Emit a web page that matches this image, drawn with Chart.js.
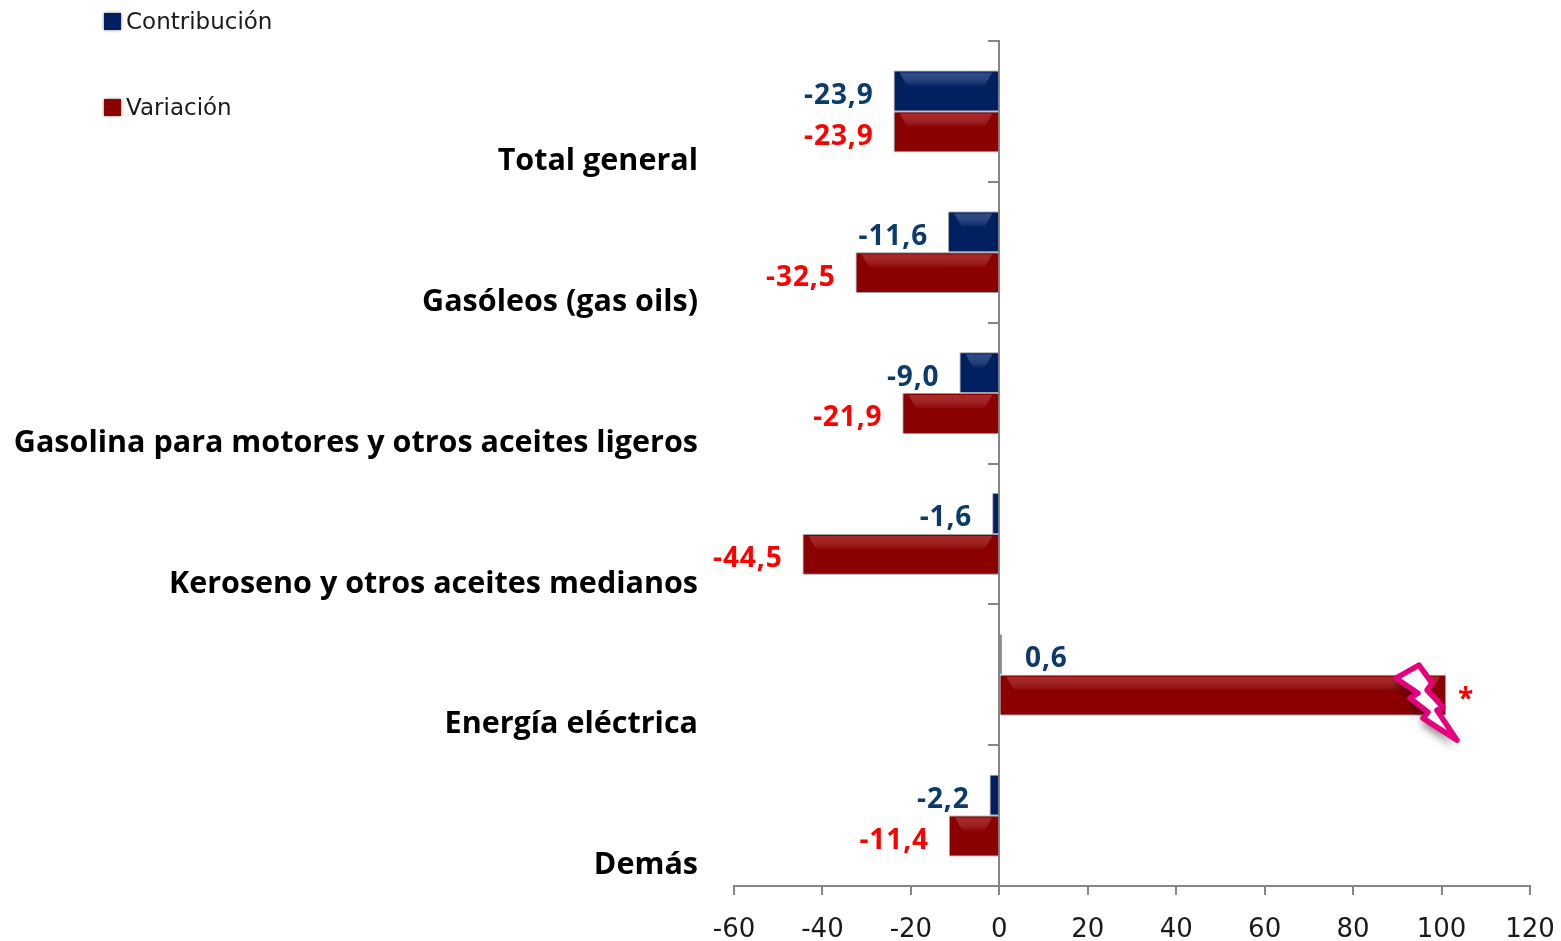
<!DOCTYPE html>
<html>
<head>
<meta charset="utf-8">
<title>Contribución y variación</title>
<script src="https://cdn.jsdelivr.net/npm/chart.js@4/dist/chart.umd.js"></script>
<style>
  html, body { margin: 0; padding: 0; background: #fff; overflow: hidden; }
  canvas { display: block; }
</style>
</head>
<body>
<canvas id="chart" width="1561" height="941"></canvas>
<script>
const categories = [
  'Total general',
  'Gasóleos (gas oils)',
  'Gasolina para motores y otros aceites ligeros',
  'Keroseno y otros aceites medianos',
  'Energía eléctrica',
  'Demás'
];
const contribucion = [-23.9, -11.6, -9.0, -1.6, 0.6, -2.2];
const variacion = [-23.9, -32.5, -21.9, -44.5, 101, -11.4];
const contribucionLabels = ['-23,9', '-11,6', '-9,0', '-1,6', '0,6', '-2,2'];
const variacionLabels = ['-23,9', '-32,5', '-21,9', '-44,5', '*', '-11,4'];

const AXIS_GRAY = '#868686';
const FONT = '"Open Sans", sans-serif';
const THIN_FONT = '"DejaVu Sans", sans-serif';

// Soft edge round the bars, bevel highlight on top and value labels next to them
const barDecor = {
  id: 'barDecor',
  beforeDatasetDraw(chart) {
    const ctx = chart.ctx;
    ctx.save();
    ctx.shadowColor = 'rgba(90,90,100,0.85)';
    ctx.shadowBlur = 3;
  },
  afterDatasetDraw(chart) {
    chart.ctx.restore();
  },
  afterDatasetsDraw(chart) {
    const ctx = chart.ctx;
    const textSets = [contribucionLabels, variacionLabels];
    const textColors = ['#0b3a6b', '#ff0000'];
    const glow = ['rgba(95,120,185,0.45)', 'rgba(215,100,100,0.38)'];

    chart.data.datasets.forEach((ds, d) => {
      chart.getDatasetMeta(d).data.forEach((bar, i) => {
        const left = Math.min(bar.x, bar.base);
        const right = Math.max(bar.x, bar.base);
        const top = bar.y - bar.height / 2;

        if (right - left > 24) {
          const grad = ctx.createLinearGradient(0, top + 2, 0, top + 16);
          grad.addColorStop(0, glow[d]);
          grad.addColorStop(1, 'rgba(255,255,255,0)');
          ctx.fillStyle = grad;
          ctx.beginPath();
          ctx.moveTo(left + 6, top + 2);
          ctx.lineTo(right - 6, top + 2);
          ctx.lineTo(right - 14, top + 16);
          ctx.lineTo(left + 14, top + 16);
          ctx.closePath();
          ctx.fill();
        }

        ctx.save();
        ctx.font = 'bold 28px ' + FONT;
        ctx.letterSpacing = '0.9px';
        ctx.fillStyle = textColors[d];
        ctx.textBaseline = 'middle';
        const negative = ds.data[i] < 0;
        ctx.textAlign = negative ? 'right' : 'left';
        const gap = negative ? -20 : (d === 0 ? 23 : 12);
        ctx.fillText(textSets[d][i], bar.x + gap, bar.y + 5);
        ctx.restore();
      });
    });
  }
};

// Lightning-bolt callout, placed relative to the tip of the Energía eléctrica bar
const boltOffsets = [
  [-27, -30], [-14, -12], [-19, -5], [-3, 12], [-9, 15], [11, 45],
  [-23, 23], [-18, 17], [-36, 3], [-28, -2], [-50, -17]
];
const boltCallout = {
  id: 'boltCallout',
  afterDraw(chart) {
    const bar = chart.getDatasetMeta(1).data[categories.indexOf('Energía eléctrica')];
    const ctx = chart.ctx;
    ctx.save();
    ctx.beginPath();
    boltOffsets.forEach(([dx, dy], i) => {
      if (i === 0) ctx.moveTo(bar.x + dx, bar.y + dy);
      else ctx.lineTo(bar.x + dx, bar.y + dy);
    });
    ctx.closePath();
    ctx.shadowColor = 'rgba(0,0,0,0.5)';
    ctx.shadowBlur = 8;
    ctx.shadowOffsetX = -2;
    ctx.shadowOffsetY = 6;
    ctx.fillStyle = '#fff';
    ctx.fill();
    ctx.shadowColor = 'transparent';
    ctx.strokeStyle = '#e6007e';
    ctx.lineWidth = 5.5;
    ctx.lineJoin = 'round';
    ctx.stroke();
    ctx.restore();
  }
};

// Legend sits far up in the left corner, stacked with a wide gap
const cornerLegend = {
  id: 'cornerLegend',
  afterDraw(chart) {
    const ctx = chart.ctx;
    chart.data.datasets.forEach((ds, d) => {
      const y = 22 + d * 86;
      ctx.save();
      ctx.shadowColor = 'rgba(0,0,0,0.5)';
      ctx.shadowBlur = 3;
      ctx.fillStyle = ds.backgroundColor;
      ctx.fillRect(104, y - 9, 17, 17);
      ctx.restore();
      ctx.font = '23px ' + THIN_FONT;
      ctx.fillStyle = '#1a1a1a';
      ctx.textAlign = 'left';
      ctx.textBaseline = 'middle';
      ctx.fillText(ds.label, 126, y + 1);
    });
  }
};

new Chart(document.getElementById('chart').getContext('2d'), {
  type: 'bar',
  data: {
    labels: categories,
    datasets: [
      {
        label: 'Contribución',
        data: contribucion,
        backgroundColor: '#002060',
        borderColor: 'rgba(125,130,145,0.5)',
        borderWidth: 1,
        categoryPercentage: 0.58,
        barPercentage: 1
      },
      {
        label: 'Variación',
        data: variacion,
        backgroundColor: '#8b0000',
        borderColor: 'rgba(125,125,125,0.5)',
        borderWidth: 1,
        categoryPercentage: 0.58,
        barPercentage: 1
      }
    ]
  },
  options: {
    indexAxis: 'y',
    responsive: false,
    animation: false,
    layout: { padding: { top: 41, right: 31, left: 0, bottom: 0 } },
    plugins: { legend: { display: false }, tooltip: { enabled: false } },
    scales: {
      x: {
        min: -60,
        max: 120,
        border: { color: AXIS_GRAY, width: 2 },
        grid: { drawOnChartArea: false, color: AXIS_GRAY, lineWidth: 2, tickLength: 9 },
        ticks: {
          stepSize: 20,
          maxRotation: 0,
          padding: 20,
          color: '#1a1a1a',
          font: { family: THIN_FONT, size: 26 }
        },
        afterFit(scale) {
          scale.height = 55;
          scale.paddingLeft = 0;
          scale.paddingRight = 0;
        }
      },
      y: {
        grid: { display: false },
        border: { display: false },
        ticks: {
          labelOffset: 50,
          padding: 28,
          color: '#000',
          autoSkip: false,
          font: { family: FONT, size: 30.5, weight: 'bold' }
        },
        afterFit(scale) {
          scale.width = 734;
          scale.paddingTop = 0;
          scale.paddingBottom = 0;
        }
      },
      // vertical axis line crossing at zero
      y2: {
        type: 'category',
        axis: 'y',
        labels: categories,
        offset: true,
        position: { x: 0 },
        border: { color: AXIS_GRAY, width: 2 },
        grid: { offset: true, drawOnChartArea: false, color: AXIS_GRAY, lineWidth: 2, tickLength: 10 },
        ticks: { display: false }
      }
    }
  },
  plugins: [barDecor, boltCallout, cornerLegend]
});
</script>
</body>
</html>
